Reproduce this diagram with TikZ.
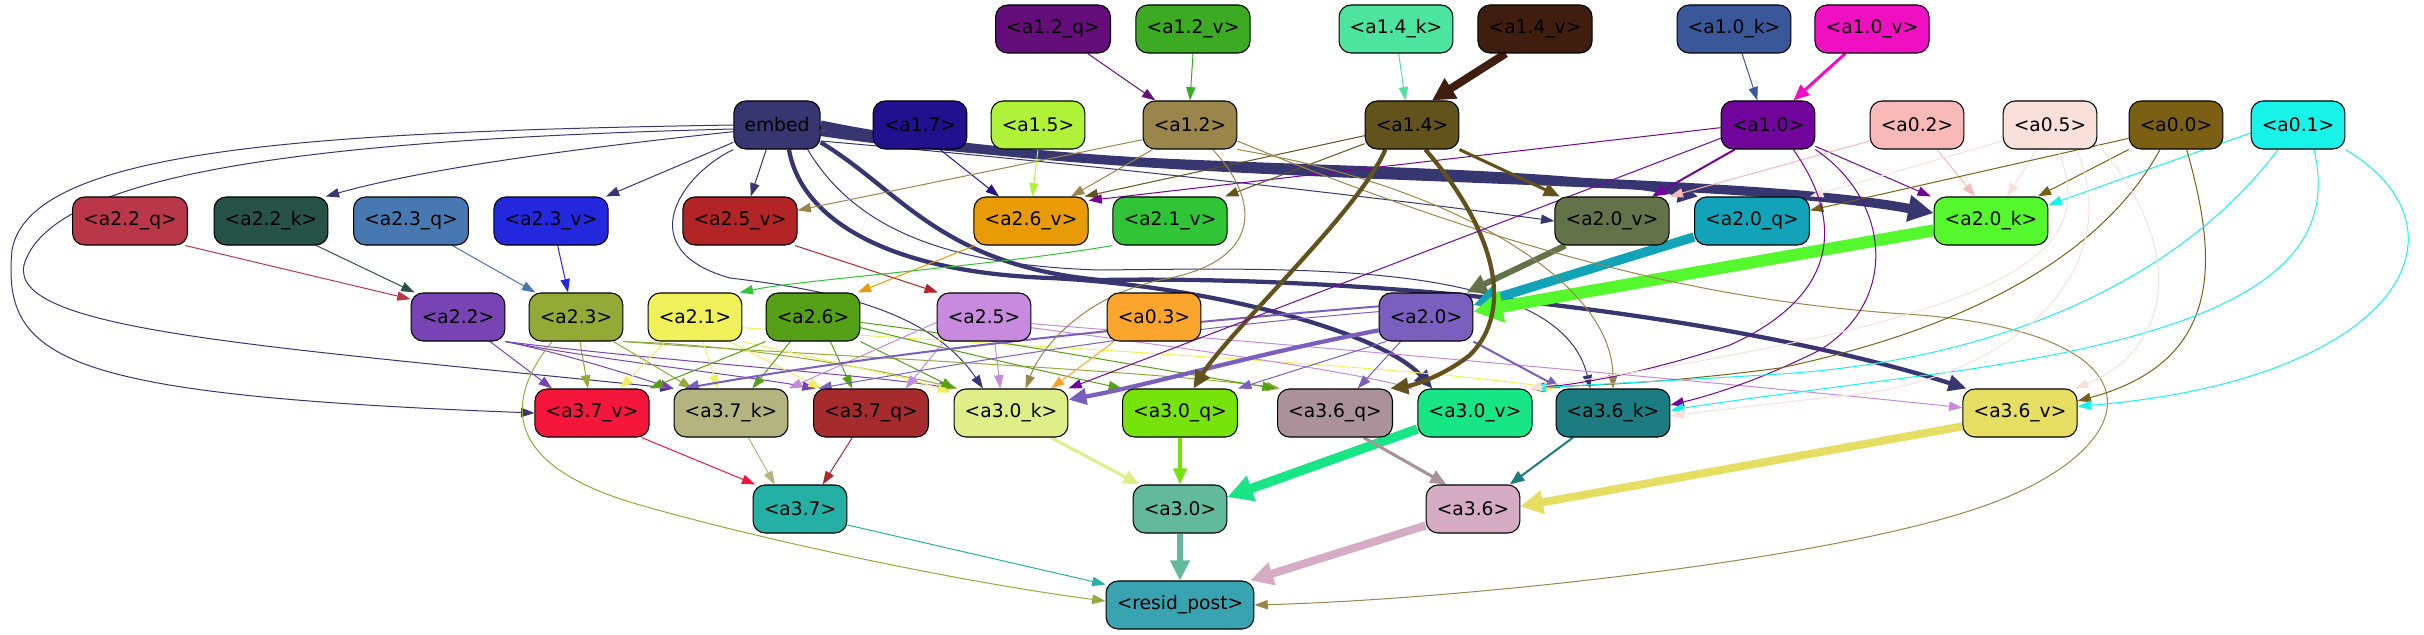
\documentclass[tikz,border=0pt]{standalone}
\usepackage{fontspec}
\setmainfont{DejaVu Sans}
\usetikzlibrary{arrows.meta}
\pgfdeclarelayer{edges}
\pgfsetlayers{edges,main}
\definecolor{cemb}{HTML}{383670}
\definecolor{ca12q}{HTML}{640E7A}
\definecolor{ca12v}{HTML}{3CAA23}
\definecolor{ca14k}{HTML}{4DE4A0}
\definecolor{ca14v}{HTML}{401E0F}
\definecolor{ca10k}{HTML}{3A5799}
\definecolor{ca10v}{HTML}{F00FC1}
\definecolor{ca17}{HTML}{21118F}
\definecolor{ca15}{HTML}{B0F23A}
\definecolor{ca12}{HTML}{9A854B}
\definecolor{ca14}{HTML}{62521B}
\definecolor{ca10}{HTML}{71049A}
\definecolor{ca02}{HTML}{FAB9B9}
\definecolor{ca05}{HTML}{FAE0DA}
\definecolor{ca00}{HTML}{7B6014}
\definecolor{ca01}{HTML}{18F3EA}
\definecolor{ca22q}{HTML}{BA3749}
\definecolor{ca22k}{HTML}{275247}
\definecolor{ca23q}{HTML}{4878B1}
\definecolor{ca23v}{HTML}{2328DF}
\definecolor{ca25v}{HTML}{B32426}
\definecolor{ca26v}{HTML}{E89B04}
\definecolor{ca21v}{HTML}{32C437}
\definecolor{ca20v}{HTML}{637249}
\definecolor{ca20q}{HTML}{12A3B9}
\definecolor{ca20k}{HTML}{55F72D}
\definecolor{ca22}{HTML}{7843B4}
\definecolor{ca23}{HTML}{93AA37}
\definecolor{ca21}{HTML}{F0F15A}
\definecolor{ca26}{HTML}{55A016}
\definecolor{ca25}{HTML}{C78ADE}
\definecolor{ca03}{HTML}{FCA52C}
\definecolor{ca20}{HTML}{7A5FBE}
\definecolor{ca37v}{HTML}{F4163B}
\definecolor{ca37k}{HTML}{B3B47F}
\definecolor{ca37q}{HTML}{A62B2C}
\definecolor{ca30k}{HTML}{DFEE88}
\definecolor{ca30q}{HTML}{76E40A}
\definecolor{ca36q}{HTML}{AB9199}
\definecolor{ca30v}{HTML}{17E586}
\definecolor{ca36k}{HTML}{1C7C81}
\definecolor{ca36v}{HTML}{E5DE62}
\definecolor{ca37}{HTML}{25B0A6}
\definecolor{ca30}{HTML}{63B99C}
\definecolor{ca36}{HTML}{D6ABC4}
\definecolor{crp}{HTML}{3AA3B1}
\tikzset{
 box/.style={draw=black, line width=0.8pt, rounded corners=9pt, minimum height=36pt, inner xsep=8pt, inner ysep=0pt, font=\fontsize{14}{17}\selectfont},
 ea/.style={line width=0.75pt, -{Triangle[length=10pt,width=7pt]}},
 eb/.style={line width=1.5pt, -{Triangle[length=11pt,width=8.5pt]}},
 ec/.style={line width=2.3pt, -{Triangle[length=12pt,width=10pt]}},
 ed/.style={line width=3.2pt, -{Triangle[length=13.5pt,width=12pt]}},
 ee/.style={line width=4.5pt, -{Triangle[length=15pt,width=14pt]}},
 ef/.style={line width=6pt, -{Triangle[length=17pt,width=17pt]}},
 eg/.style={line width=7pt, -{Triangle[length=19pt,width=19pt]}},
 eh/.style={line width=9pt, -{Triangle[length=22pt,width=23pt]}},
}
\begin{document}
\begin{tikzpicture}[x=0.75pt,y=-0.75pt]
\useasboundingbox (0,0) rectangle (2424,635);
% row 0
\node[box,fill=ca12q] (a12q) at (1053,29) {<a1.2\_q>};
\node[box,fill=ca12v] (a12v) at (1193,29) {<a1.2\_v>};
\node[box,fill=ca14k] (a14k) at (1396,29) {<a1.4\_k>};
\node[box,fill=ca14v] (a14v) at (1535,29) {<a1.4\_v>};
\node[box,fill=ca10k] (a10k) at (1734,29) {<a1.0\_k>};
\node[box,fill=ca10v] (a10v) at (1872,29) {<a1.0\_v>};
% row 1
\node[box,fill=cemb] (emb) at (777,125) {embed};
\node[box,fill=ca17] (a17) at (920,125) {<a1.7>};
\node[box,fill=ca15] (a15) at (1038,125) {<a1.5>};
\node[box,fill=ca12] (a12) at (1190,125) {<a1.2>};
\node[box,fill=ca14] (a14) at (1412,125) {<a1.4>};
\node[box,fill=ca10] (a10) at (1768,125) {<a1.0>};
\node[box,fill=ca02] (a02) at (1917,125) {<a0.2>};
\node[box,fill=ca05] (a05) at (2050,125) {<a0.5>};
\node[box,fill=ca00] (a00) at (2176,125) {<a0.0>};
\node[box,fill=ca01] (a01) at (2298,125) {<a0.1>};
% row 2
\node[box,fill=ca22q] (a22q) at (130,221) {<a2.2\_q>};
\node[box,fill=ca22k] (a22k) at (271,221) {<a2.2\_k>};
\node[box,fill=ca23q] (a23q) at (411,221) {<a2.3\_q>};
\node[box,fill=ca23v] (a23v) at (551,221) {<a2.3\_v>};
\node[box,fill=ca25v] (a25v) at (740,221) {<a2.5\_v>};
\node[box,fill=ca26v] (a26v) at (1031,221) {<a2.6\_v>};
\node[box,fill=ca21v] (a21v) at (1170,221) {<a2.1\_v>};
\node[box,fill=ca20v] (a20v) at (1612,221) {<a2.0\_v>};
\node[box,fill=ca20q] (a20q) at (1752,221) {<a2.0\_q>};
\node[box,fill=ca20k] (a20k) at (1991,221) {<a2.0\_k>};
% row 3
\node[box,fill=ca22] (a22) at (458,317) {<a2.2>};
\node[box,fill=ca23] (a23) at (576,317) {<a2.3>};
\node[box,fill=ca21] (a21) at (695,317) {<a2.1>};
\node[box,fill=ca26] (a26) at (813,317) {<a2.6>};
\node[box,fill=ca25] (a25) at (984,317) {<a2.5>};
\node[box,fill=ca03] (a03) at (1154,317) {<a0.3>};
\node[box,fill=ca20] (a20) at (1426,317) {<a2.0>};
% row 4
\node[box,fill=ca37v] (a37v) at (592,413) {<a3.7\_v>};
\node[box,fill=ca37k] (a37k) at (731,413) {<a3.7\_k>};
\node[box,fill=ca37q] (a37q) at (871,413) {<a3.7\_q>};
\node[box,fill=ca30k] (a30k) at (1011,413) {<a3.0\_k>};
\node[box,fill=ca30q] (a30q) at (1180,413) {<a3.0\_q>};
\node[box,fill=ca36q] (a36q) at (1335,413) {<a3.6\_q>};
\node[box,fill=ca30v] (a30v) at (1475,413) {<a3.0\_v>};
\node[box,fill=ca36k] (a36k) at (1613,413) {<a3.6\_k>};
\node[box,fill=ca36v] (a36v) at (2020,413) {<a3.6\_v>};
% row 5
\node[box,fill=ca37] (a37) at (800,509) {<a3.7>};
\node[box,fill=ca30] (a30) at (1180,509) {<a3.0>};
\node[box,fill=ca36] (a36) at (1473,509) {<a3.6>};
% row 6
\node[box,fill=crp] (rp) at (1180,605) {<resid\_post>};

\begin{pgfonlayer}{edges}
% top
\draw[ea,ca12q] ([xshift=26pt]a12q.south) -- ([xshift=-26pt]a12.north);
\draw[ea,ca12v] (a12v.south) -- (a12.north);
\draw[ea,ca14k] ([xshift=2pt]a14k.south) -- ([xshift=-5pt]a14.north);
\draw[ef,ca14v] ([xshift=-22pt]a14v.south) -- ([xshift=15pt]a14.north);
\draw[ea,ca10k] ([xshift=6pt]a10k.south) -- ([xshift=-8pt]a10.north);
\draw[ec,ca10v] ([xshift=-20pt]a10v.south) -- ([xshift=19pt]a10.north);
% embed
\draw[ea,cemb] ([yshift=-5pt]emb.west) .. controls (560,150) and (420,170) .. ([xshift=-2pt]a22k.north east);
\draw[ea,cemb] ([yshift=-13pt]emb.west) -- ([xshift=-2pt]a23v.north east);
\draw[ea,cemb] ([xshift=-8pt]emb.south) -- ([xshift=8pt]a25v.north);
\draw[ea,cemb] ([yshift=0pt]emb.west) .. controls (300,132) and (30,150) .. (12,250) .. controls (2,360) and (60,395) .. (a37v.west);
\draw[ea,cemb] ([yshift=-3pt]emb.west) .. controls (300,140) and (50,175) .. (24,265) .. controls (10,330) and (250,345) .. (a37k.north west);
\draw[ea,cemb] (emb.south west) .. controls (680,175) and (630,250) .. (730,278) .. controls (830,290) and (930,310) .. ([xshift=-21pt]a30k.north);
\draw[ea,cemb] ([xshift=23pt]emb.south) .. controls (850,220) and (930,265) .. (1100,270) .. controls (1300,268) and (1560,260) .. ([xshift=-17pt]a36k.north);
\draw[ea,cemb] ([yshift=-12pt]emb.east) .. controls (1100,165) and (1400,200) .. (a20v.west);
\draw[ee,cemb] ([yshift=-6pt]emb.east) .. controls (1100,175) and (1500,160) .. ([xshift=3pt]a20q.north west);
\draw[eg,cemb] (emb.east) .. controls (1100,185) and (1700,170) .. ([yshift=6pt]a20k.west);
\draw[ed,cemb] ([xshift=9pt]emb.south) .. controls (800,215) and (880,272) .. (1050,278) .. controls (1200,285) and (1380,330) .. ([xshift=-32pt]a30v.north);
\draw[ed,cemb] ([yshift=-13pt]emb.east) .. controls (900,190) and (940,265) .. (1100,280) .. controls (1400,275) and (1750,320) .. ([xshift=3pt]a36v.north west);
% row1 -> row2
\draw[ea,ca17] ([xshift=15pt]a17.south) -- ([xshift=-24pt]a26v.north);
\draw[ea,ca15] (a15.south) -- ([xshift=1pt]a26v.north);
\draw[ea,ca12] ([xshift=-28pt]a12.south) -- ([xshift=30pt]a26v.north);
\draw[ea,ca12] ([yshift=-11pt]a12.west) -- ([yshift=8pt]a25v.east);
\draw[ea,ca14] ([yshift=-8pt]a14.west) -- ([xshift=-3pt]a26v.north east);
\draw[ea,ca10] ([yshift=-2pt]a10.west) -- ([yshift=-3pt]a26v.north east);
\draw[ea,ca14] ([yshift=-14pt]a14.west) -- ([xshift=-2pt]a21v.north east);
\draw[ec,ca14] (a14.south east) -- ([xshift=4pt]a20v.north west);
\draw[eb,ca10] ([xshift=-25pt]a10.south) -- ([xshift=30pt]a20v.north);
\draw[ea,ca10] ([yshift=-16pt]a10.east) -- ([xshift=-2pt]a20k.north west);
\draw[ea,ca02] ([xshift=15pt]a02.south) -- ([xshift=-12pt]a20k.north);
\draw[ea,ca05] ([xshift=-10pt]a05.south) -- ([xshift=12pt]a20k.north);
\draw[ea,ca00] (a00.south west) -- ([xshift=-8pt]a20k.north east);
\draw[ea,ca01] ([yshift=-6pt]a01.west) -- ([yshift=12pt]a20k.east);
\draw[ea,ca02] ([yshift=-12pt]a02.west) -- (a20v.north east);
\draw[ea,ca05] ([yshift=-12pt]a05.west) -- (a20q.north east);
\draw[ea,ca00] ([yshift=-10pt]a00.west) -- ([yshift=8pt]a20q.east);
% row2 -> row3
\draw[ea,ca22q] ([xshift=-2pt]a22q.south east) -- ([yshift=-5pt]a22.north west);
\draw[ea,ca22k] ([xshift=34pt]a22k.south) -- ([xshift=3pt]a22.north west);
\draw[ea,ca23q] ([xshift=31pt]a23q.south) -- ([xshift=5pt]a23.north west);
\draw[ea,ca23v] ([xshift=5pt]a23v.south) -- ([xshift=-6pt]a23.north);
\draw[ea,ca25v] ([xshift=-2pt]a25v.south east) -- ([xshift=1pt]a25.north west);
\draw[ea,ca26v] ([xshift=-42pt]a26v.south) -- ([xshift=-2pt]a26.north east);
\draw[ea,ca21v] (a21v.south west) .. controls (1000,265) and (800,280) .. ([xshift=-2pt]a21.north east);
\draw[ee,ca20v] ([xshift=-35pt]a20v.south) -- ([xshift=-5pt]a20.north east);
\draw[eg,ca20q] ([yshift=-12pt]a20q.west) -- ([yshift=9pt]a20.east);
\draw[eh,ca20k] ([yshift=-7pt]a20k.west) -- ([yshift=4pt]a20.east);
% a2.2
\draw[ea,ca22] ([xshift=24pt]a22.south) -- ([xshift=-30pt]a37v.north);
\draw[ea,ca22] (a22.south east) .. controls (570,355) and (630,375) .. (a37k.north west);
\draw[ea,ca22] (a22.south east) .. controls (600,360) and (740,375) .. ([xshift=2pt]a37q.north west);
\draw[ea,ca22] (a22.south east) .. controls (650,360) and (870,375) .. ([xshift=-1pt]a30k.north west);
% a2.3
\draw[ea,ca23] ([xshift=3pt]a23.south) -- ([xshift=-3pt]a37v.north);
\draw[ea,ca23] ([xshift=28pt]a23.south) -- ([xshift=-29pt]a37k.north);
\draw[ea,ca23] ([xshift=-18pt]a23.south) .. controls (505,400) and (500,465) .. (640,505) .. controls (780,545) and (980,585) .. ([yshift=3pt]rp.west);
\draw[ea,ca23] (a23.south east) .. controls (750,345) and (880,370) .. ([xshift=3pt]a30k.north west);
\draw[ea,ca23] (a23.south east) .. controls (800,355) and (1150,370) .. ([xshift=2pt]a36q.north west);
% a2.1
\draw[ea,ca21] ([xshift=-22pt]a21.south) -- ([xshift=21pt]a37v.north);
\draw[ea,ca21] ([xshift=6pt]a21.south) -- ([xshift=-10pt]a37k.north);
\draw[ea,ca21] ([xshift=26pt]a21.south) -- ([xshift=-37pt]a37q.north);
\draw[ea,ca21] (a21.south east) .. controls (820,360) and (900,375) .. ([xshift=-2pt,yshift=-3pt]a30k.north west);
\draw[ea,ca21] ([yshift=-8pt]a21.east) .. controls (1000,345) and (1400,365) .. ([xshift=1pt]a36k.north west);
% a2.6
\draw[ea,ca26] (a26.south west) -- (a37v.north east);
\draw[ea,ca26] ([xshift=-17pt]a26.south) -- ([xshift=16pt]a37k.north);
\draw[ea,ca26] ([xshift=13pt]a26.south) -- ([xshift=-14pt]a37q.north);
\draw[ea,ca26] (a26.south east) -- ([xshift=1pt]a30k.north west);
\draw[ea,ca26] ([yshift=-8pt]a26.east) .. controls (950,350) and (1060,375) .. (a30q.north west);
\draw[ea,ca26] ([yshift=-4pt]a26.east) .. controls (1000,340) and (1160,370) .. ([xshift=-1pt]a36q.north west);
% a2.5
\draw[ea,ca25] ([yshift=-4pt]a25.west) -- (a37k.north east);
\draw[ea,ca25] ([xshift=-30pt]a25.south) -- ([xshift=26pt]a37q.north);
\draw[ea,ca25] ([xshift=8pt]a25.south) -- ([xshift=-8pt]a30k.north);
\draw[ea,ca25] ([yshift=-8pt]a25.east) .. controls (1200,350) and (1340,370) .. ([xshift=-3pt]a30v.north west);
\draw[ea,ca25] ([yshift=-5pt]a25.east) .. controls (1300,345) and (1750,385) .. ([yshift=4pt]a36v.west);
% a0.3
\draw[ea,ca03] ([xshift=-30pt]a03.south) -- ([xshift=30pt]a30k.north);
% a2.0
\draw[ed,ca20] ([yshift=-10pt]a20.west) .. controls (1250,355) and (1150,385) .. ([yshift=10pt]a30k.east);
\draw[eb,ca20] ([yshift=8pt]a20.west) .. controls (1150,325) and (900,350) .. ([xshift=8pt]a37k.north west);
\draw[ea,ca20] ([yshift=4pt]a20.west) .. controls (1150,330) and (950,365) .. ([xshift=4pt]a37q.north west);
\draw[ea,ca20] ([xshift=-30pt]a20.south) -- (a30q.north east);
\draw[ea,ca20] ([xshift=-19pt]a20.south) -- ([xshift=17pt]a36q.north);
\draw[eb,ca20] (a20.south east) -- ([xshift=4pt]a36k.north west);
% row1 -> row4 and beyond
\draw[ea,ca12] ([xshift=17pt]a12.south) .. controls (1260,200) and (1265,262) .. (1160,280) .. controls (1080,298) and (1040,350) .. ([xshift=11pt]a30k.north);
\draw[ea,ca12] (a12.south east) .. controls (1450,185) and (1612,280) .. (a36k.north);
\draw[ea,ca12] ([yshift=-12pt]a12.east) .. controls (1550,270) and (1750,305) .. (1920,315) .. controls (2160,335) and (2150,440) .. (2000,500) .. controls (1850,560) and (1450,600) .. (rp.east);
\draw[ed,ca14] ([xshift=-20pt]a14.south) .. controls (1360,210) and (1230,330) .. ([xshift=10pt]a30q.north);
\draw[ed,ca14] ([xshift=10pt]a14.south) .. controls (1495,230) and (1515,310) .. (1470,355) .. controls (1445,375) and (1415,385) .. ([xshift=-2pt]a36q.north east);
\draw[ea,ca10] ([yshift=-10pt]a10.west) -- (a30k.north east);
\draw[ea,ca10] ([xshift=19pt]a10.south) .. controls (1850,230) and (1830,300) .. (1730,345) .. controls (1640,375) and (1570,385) .. ([xshift=-1pt]a30v.north east);
\draw[ea,ca10] (a10.south east) .. controls (1890,200) and (1900,300) .. (1820,350) .. controls (1750,385) and (1700,398) .. ([yshift=6pt]a36k.east);
% a0.x -> row4
\draw[ea,ca00] ([xshift=-12pt]a00.south) .. controls (2100,260) and (1960,330) .. (1780,368) .. controls (1650,385) and (1580,385) .. ([xshift=-2pt]a30v.north east);
\draw[ea,ca00] ([xshift=8pt]a00.south) .. controls (2215,250) and (2230,360) .. ([yshift=9pt]a36v.east);
\draw[ea,ca01] ([xshift=-15pt]a01.south) .. controls (2180,280) and (2000,360) .. (1780,374) .. controls (1650,382) and (1580,385) .. (a30v.north east);
\draw[ea,ca01] ([xshift=12pt]a01.south) .. controls (2340,260) and (2250,330) .. (1950,372) .. controls (1800,392) and (1720,402) .. ([yshift=2pt]a36k.east);
\draw[ea,ca01] (a01.south east) .. controls (2480,230) and (2400,380) .. ([yshift=5pt]a36v.east);
\draw[ea,ca05] ([xshift=6pt]a05.south) .. controls (2090,230) and (2050,280) .. (1850,330) .. controls (1700,365) and (1580,380) .. ([xshift=-3pt]a30v.north east);
\draw[ea,ca05] ([xshift=20pt]a05.south) .. controls (2130,280) and (2000,380) .. (1850,395) .. controls (1760,405) and (1700,412) .. ([yshift=-2pt]a36k.east);
\draw[ea,ca05] ([yshift=-14pt]a05.east) .. controls (2190,250) and (2170,350) .. ([xshift=-2pt]a36v.north east);
% row4 -> row5
\draw[ea,ca37v] ([xshift=-6pt]a37v.south east) -- ([xshift=2pt]a37.north west);
\draw[ea,ca37k] ([xshift=13pt]a37k.south) -- ([xshift=-19pt]a37.north);
\draw[ea,ca37q] ([xshift=-14pt]a37q.south) -- ([xshift=17pt]a37.north);
\draw[ec,ca30k] ([xshift=30pt]a30k.south) -- ([xshift=5pt]a30.north west);
\draw[ec,ca30q] (a30q.south) -- (a30.north);
\draw[eg,ca30v] ([yshift=-12pt]a30v.west) -- ([yshift=9pt]a30.east);
\draw[ec,ca36q] ([xshift=-22pt]a36q.south east) -- ([xshift=-20pt]a36.north);
\draw[eb,ca36k] ([xshift=-30pt]a36k.south) -- ([xshift=-8pt]a36.north east);
\draw[ef,ca36v] ([yshift=-10pt]a36v.west) -- ([yshift=2pt]a36.east);
% row5 -> resid
\draw[ea,ca37] ([yshift=-12pt]a37.east) -- ([yshift=-3pt]rp.north west);
\draw[ee,ca30] (a30.south) -- (rp.north);
\draw[ef,ca36] ([yshift=6pt]a36.south west) -- ([xshift=-3pt]rp.north east);
\end{pgfonlayer}
\end{tikzpicture}
\end{document}
